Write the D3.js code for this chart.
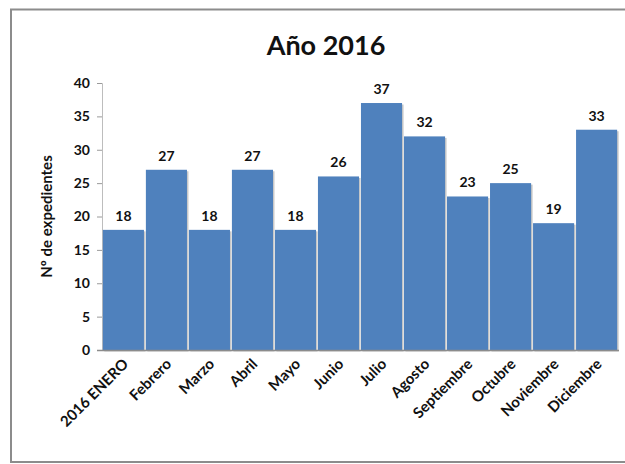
<!DOCTYPE html>
<html>
<head>
<meta charset="utf-8">
<script src="https://cdn.jsdelivr.net/npm/d3@7"></script>
<style>
  body { margin: 0; background: #fff; }
  text { font-family: Lato, "Open Sans", sans-serif; fill: #111; }
</style>
</head>
<body>
<div id="chart-area"></div>
<script>
const months = ["2016 ENERO", "Febrero", "Marzo", "Abril", "Mayo", "Junio", "Julio",
  "Agosto", "Septiembre", "Octubre", "Noviembre", "Diciembre"]
const counts = [18, 27, 18, 27, 18, 26, 37, 32, 23, 25, 19, 33]
const yTicks = [0, 5, 10, 15, 20, 25, 30, 35, 40]

const W = 625, H = 464
const PLOT = { LEFT: 102, RIGHT: 618, TOP: 83, BOTTOM: 350 }

const svg = d3.select("#chart-area").append("svg")
  .attr("width", W)
  .attr("height", H)

// outer frame
svg.append("rect")
  .attr("x", 11).attr("y", 9.5)
  .attr("width", 640).attr("height", 452.5)
  .attr("fill", "none")
  .attr("stroke", "#8c8c8c")
  .attr("stroke-width", 2)

svg.append("text")
  .attr("x", 326).attr("y", 55)
  .attr("text-anchor", "middle")
  .attr("font-size", 27)
  .attr("font-weight", "bold")
  .text("Año 2016")

const x = d3.scaleBand()
  .domain(months)
  .range([PLOT.LEFT, PLOT.RIGHT])
  .paddingInner(0.045)
  .paddingOuter(0.02)

const y = d3.scaleLinear()
  .domain([0, 40])
  .range([PLOT.BOTTOM, PLOT.TOP])

// y axis
const yAxis = svg.append("g")
  .attr("transform", `translate(${PLOT.LEFT}, 0)`)
  .call(d3.axisLeft(y).tickValues(yTicks).tickSize(5).tickPadding(7))
yAxis.select(".domain").attr("stroke", "#bdbdbd")
yAxis.selectAll(".tick line").attr("stroke", "#9a9a9a")
yAxis.selectAll(".tick text")
  .attr("font-size", 14)
  .attr("font-weight", "bold")
  .attr("font-family", "Lato, sans-serif")
  .attr("fill", "#111")

svg.append("text")
  .attr("transform", `translate(52, ${(PLOT.TOP + PLOT.BOTTOM) / 2}) rotate(-90)`)
  .attr("text-anchor", "middle")
  .attr("font-size", 15)
  .attr("font-weight", "bold")
  .text("Nº de expedientes")

// bar shadows
svg.selectAll(".shadow")
  .data(counts)
  .enter()
  .append("rect")
  .attr("class", "shadow")
  .attr("x", (d, i) => x(months[i]) + 1.5)
  .attr("y", d => y(d) + 1.5)
  .attr("width", x.bandwidth())
  .attr("height", d => PLOT.BOTTOM - y(d))
  .attr("fill", "#c8c8c8")

svg.selectAll(".bar")
  .data(counts)
  .enter()
  .append("rect")
  .attr("class", "bar")
  .attr("x", (d, i) => x(months[i]))
  .attr("y", d => y(d))
  .attr("width", x.bandwidth())
  .attr("height", d => PLOT.BOTTOM - y(d))
  .attr("fill", "#4f81bd")

svg.selectAll(".val")
  .data(counts)
  .enter()
  .append("text")
  .attr("class", "val")
  .attr("x", (d, i) => x(months[i]) + x.bandwidth() / 2)
  .attr("y", d => y(d) - 9)
  .attr("text-anchor", "middle")
  .attr("font-size", 14)
  .attr("font-weight", "bold")
  .text(d => d)

// x baseline
svg.append("line")
  .attr("x1", PLOT.LEFT - 5).attr("x2", PLOT.RIGHT + 1)
  .attr("y1", PLOT.BOTTOM + 0.5).attr("y2", PLOT.BOTTOM + 0.5)
  .attr("stroke", "#8c8c8c")
  .attr("stroke-width", 1.5)

// x labels
svg.selectAll(".xlab")
  .data(months)
  .enter()
  .append("text")
  .attr("class", "xlab")
  .attr("transform", d => `translate(${x(d) + x.bandwidth() / 2 + 6}, ${PLOT.BOTTOM + 15}) rotate(-45)`)
  .attr("text-anchor", "end")
  .attr("font-size", 15)
  .attr("font-weight", "bold")
  .text(d => d)
</script>
</body>
</html>
